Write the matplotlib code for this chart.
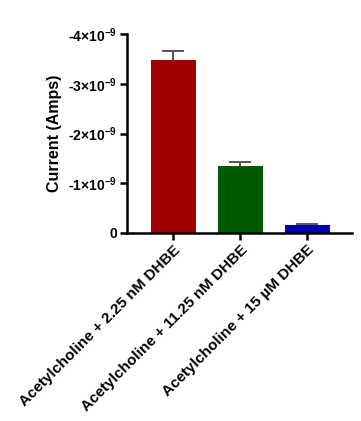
import numpy as np
import matplotlib.pyplot as plt

plt.rcParams['font.family'] = ['Liberation Sans', 'DejaVu Sans']
plt.rcParams['font.weight'] = 'bold'
plt.rcParams['mathtext.fontset'] = 'custom'
plt.rcParams['mathtext.rm'] = 'Liberation Sans:bold'
plt.rcParams['mathtext.default'] = 'rm'

# data (Amps)
groups = ['Acetylcholine + 2.25 nM DHBE',
          'Acetylcholine + 11.25 nM DHBE',
          'Acetylcholine + 15 \u00b5M DHBE']
current = np.array([-3.47e-9, -1.34e-9, -0.16e-9])
error = np.array([0.19e-9, 0.08e-9, 0.03e-9])
colors = ['#a00000', '#005a00', '#0000b0']
yticks = [0, -1e-9, -2e-9, -3e-9, -4e-9]
ytick_labels = ['0', r'-1×10$^{-9}$', r'-2×10$^{-9}$', r'-3×10$^{-9}$', r'-4×10$^{-9}$']

fig = plt.figure(figsize=(3.61, 4.21), dpi=100)
ax = fig.add_axes([127/361, 1 - 233/421, 225/361, 199/421])

x = np.arange(len(groups))
# one-sided error bars (towards larger magnitude)
ax.vlines(x, current, current - error, color='#555555', lw=1.4, zorder=1)
ax.hlines(current - error, x - 0.165, x + 0.165, color='#555555', lw=1.4, zorder=1)
ax.bar(x, current, width=0.67, color=colors, zorder=2)

ax.set_xlim(-0.69, 2.67)
ax.set_ylim(0, -4e-9)
ax.set_yticks(yticks)
ax.set_yticklabels(ytick_labels, fontsize=10)
ax.set_xticks(x)
ax.set_xticklabels(groups, rotation=45, ha='right', rotation_mode='anchor', fontsize=11)
ax.set_ylabel('Current (Amps)', fontsize=11.5, fontweight='bold', labelpad=5)

for s in ['top', 'right']:
    ax.spines[s].set_visible(False)
for s in ['left', 'bottom']:
    ax.spines[s].set_linewidth(1.8)
ax.tick_params(width=1.8, length=5, pad=2)

fig.savefig('out.png', dpi=100)
